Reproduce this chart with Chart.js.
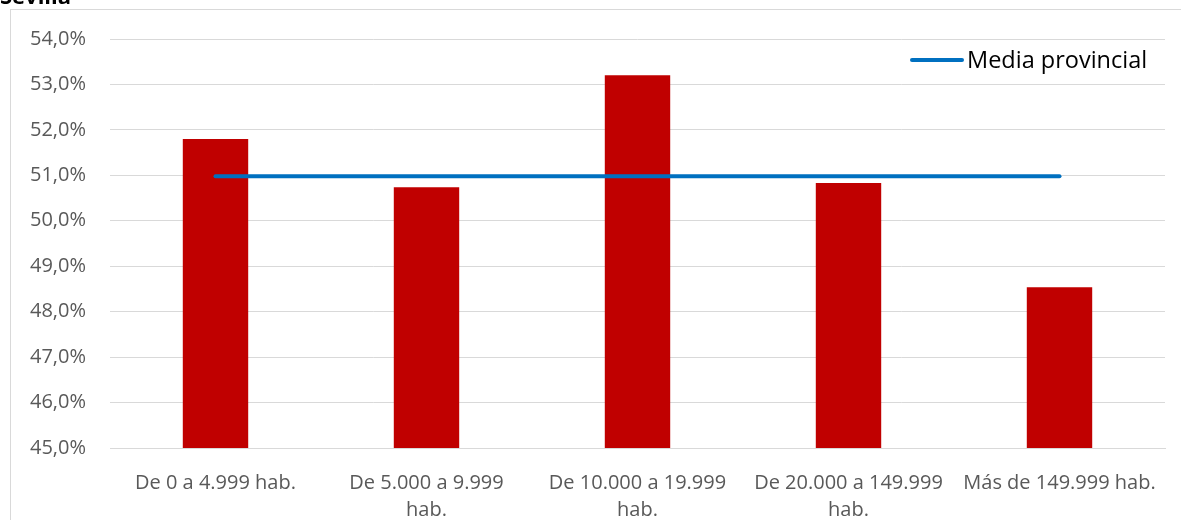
<!DOCTYPE html>
<html>
<head>
<meta charset="utf-8">
<script src="https://cdn.jsdelivr.net/npm/chart.js@4/dist/chart.umd.min.js"></script>
<style>
  html, body { margin: 0; padding: 0; background: #fff; }
  #wrap { position: relative; width: 1181px; height: 520px; }
</style>
</head>
<body>
<div id="wrap"><canvas id="grafico"></canvas></div>
<script>
// Porcentaje por tamaño de municipio (Sevilla)
const categorias = [
    'De 0 a 4.999 hab.',
    ['De 5.000 a 9.999', 'hab.'],
    ['De 10.000 a 19.999', 'hab.'],
    ['De 20.000 a 149.999', 'hab.'],
    'Más de 149.999 hab.'
];
const valores = [51.8, 50.74, 53.2, 50.83, 48.54];
const mediaProvincial = [50.98, 50.98, 50.98, 50.98, 50.98];
const ejeMin = 45;
const ejeMax = 54;

const fuente = '"Open Sans", "Liberation Sans", sans-serif';

// Marco, título y leyenda dibujados a mano
const decoracion = {
    id: 'decoracion',
    beforeDraw(chart) {
        const c = chart.ctx;
        c.save();
        c.fillStyle = '#fff';
        c.fillRect(0, 0, chart.width, chart.height);
        c.strokeStyle = '#D9D9D9';
        c.lineWidth = 1;
        c.strokeRect(10.5, 9.5, 1300, 700);
        c.fillStyle = '#000';
        c.font = 'bold 22px ' + fuente;
        c.textBaseline = 'alphabetic';
        c.fillText('Sevilla', 0, 4);
        c.restore();
    },
    afterDraw(chart) {
        const c = chart.ctx;
        const ds = chart.data.datasets[1];
        c.save();
        c.strokeStyle = ds.borderColor;
        c.lineWidth = 4;
        c.lineCap = 'round';
        c.beginPath();
        c.moveTo(912, 60);
        c.lineTo(962, 60);
        c.stroke();
        c.fillStyle = '#000';
        c.font = '23.5px ' + fuente;
        c.textBaseline = 'middle';
        c.fillText(ds.label, 967, 61);
        c.restore();
    }
};

new Chart(document.getElementById('grafico'), {
    type: 'bar',
    data: {
        labels: categorias,
        datasets: [
            {
                label: 'Porcentaje',
                data: valores,
                backgroundColor: '#C00000',
                categoryPercentage: 1,
                barPercentage: 0.31,
                order: 1
            },
            {
                type: 'line',
                label: 'Media provincial',
                data: mediaProvincial,
                borderColor: '#0070C0',
                borderWidth: 4,
                borderCapStyle: 'round',
                pointRadius: 0,
                fill: false,
                order: 0
            }
        ]
    },
    options: {
        responsive: true,
        maintainAspectRatio: false,
        animation: false,
        layout: {
            padding: { top: 39, right: 16, left: 0, bottom: 0 }
        },
        scales: {
            y: {
                min: ejeMin,
                max: ejeMax,
                ticks: {
                    stepSize: 1,
                    padding: 24,
                    color: '#595959',
                    font: { family: fuente, size: 20 },
                    callback: v => v.toFixed(1).replace('.', ',') + '%'
                },
                grid: { color: '#D9D9D9', drawTicks: false },
                border: { display: false },
                afterFit: s => { s.width = 110; }
            },
            x: {
                ticks: {
                    padding: 14,
                    color: '#595959',
                    maxRotation: 0,
                    autoSkip: false,
                    font: { family: fuente, size: 20, lineHeight: 1.35 }
                },
                grid: { display: false },
                border: { color: '#D9D9D9' },
                afterFit: s => { s.height = 72; }
            }
        },
        plugins: {
            legend: { display: false },
            tooltip: { enabled: false }
        }
    },
    plugins: [decoracion]
});
</script>
</body>
</html>
